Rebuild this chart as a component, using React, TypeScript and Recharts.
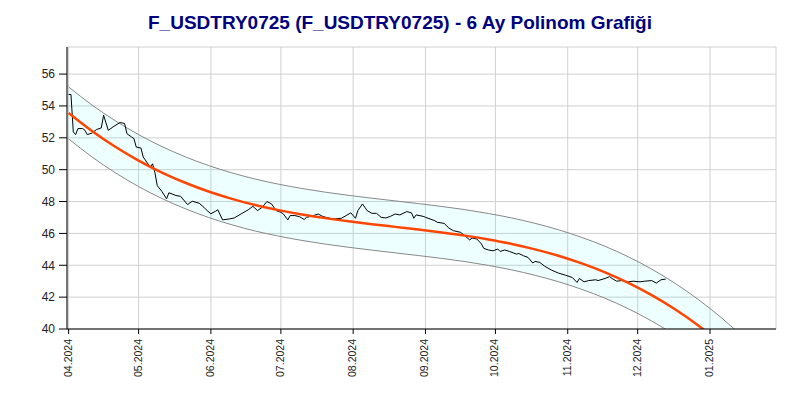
import React from 'react';
import { ComposedChart, Line, Area, XAxis, YAxis, CartesianGrid } from 'recharts';

// day index = days since 01.04.2024
const priceDays = [
  0, 1, 2, 3, 4, 6, 7, 8, 10, 12, 14, 15, 17, 19, 22, 24, 25, 27, 28, 29,
  31, 32, 34, 35, 36, 37, 38, 40, 42, 43, 46, 48, 51, 53, 56, 58, 59, 61, 63, 64,
  65, 66, 69, 71, 74, 77, 79, 81, 83, 85, 87, 89, 91, 92, 94, 95, 97, 99, 101, 102,
  104, 107, 109, 112, 114, 117, 119, 121, 123, 124, 126, 128, 130, 132, 134, 136, 138, 140, 142, 145,
  147, 148, 149, 152, 153, 157, 158, 161, 163, 165, 168, 169, 172, 173, 175, 177, 178, 180, 182, 184,
  185, 187, 189, 192, 193, 195, 197, 199, 200, 202, 204, 207, 210, 213, 216, 218, 219, 221, 223, 226,
  227, 230, 232, 233, 235, 237, 240, 242, 245, 247, 250, 252, 254, 256,
];
const prices = [
  54.72, 54.72, 52.37, 52.2, 52.58, 52.58, 52.47, 52.2, 52.3, 52.52, 52.62, 53.42, 52.47, 52.68, 52.96, 52.9, 52.26, 52.05, 51.95, 51.42,
  51.36, 50.79, 50.37, 50.16, 50.37, 49.81, 49.0, 48.63, 48.17, 48.55, 48.38, 48.33, 47.81, 48.02, 47.89, 47.64, 47.48, 47.23, 47.39, 47.48,
  47.16, 46.85, 46.91, 46.97, 47.23, 47.48, 47.7, 47.43, 47.64, 48.0, 47.85, 47.43, 47.33, 47.23, 46.85, 47.12, 47.12, 47.05, 46.87, 47.01,
  47.07, 47.22, 47.06, 46.95, 46.91, 46.95, 47.12, 47.29, 46.95, 47.43, 47.85, 47.43, 47.26, 47.26, 47.01, 46.97, 47.07, 47.22, 47.16, 47.37,
  47.29, 46.95, 47.16, 47.07, 47.01, 46.8, 46.7, 46.63, 46.34, 46.17, 46.07, 45.96, 45.59, 45.71, 45.65, 45.34, 45.06, 44.96, 44.91, 45.02,
  44.87, 44.96, 44.87, 44.7, 44.74, 44.6, 44.49, 44.14, 44.24, 44.18, 43.95, 43.7, 43.51, 43.38, 43.23, 42.92, 43.17, 42.96, 43.04, 43.09,
  43.04, 43.17, 43.29, 43.17, 43.0, 43.04, 42.96, 43.0, 42.96, 43.0, 43.04, 42.88, 43.09, 43.13,
];

const fitDays = [0, 10, 20, 30, 40, 50, 60, 70, 80, 90, 100, 110, 120, 130, 140, 150, 160, 170, 180, 190, 200, 210, 220, 230, 240, 250, 260, 270, 280, 290, 300];
const fitValues = [53.56, 52.43, 51.44, 50.57, 49.82, 49.18, 48.63, 48.17, 47.78, 47.46, 47.19, 46.96, 46.76, 46.58, 46.41, 46.24, 46.06, 45.86, 45.62, 45.34, 45.0, 44.6, 44.12, 43.56, 42.9, 42.13, 41.24, 40.22, 39.06, 37.75, 36.28];
const upperValues = [55.19, 54.06, 53.07, 52.2, 51.45, 50.81, 50.26, 49.8, 49.41, 49.09, 48.82, 48.59, 48.39, 48.21, 48.04, 47.87, 47.69, 47.49, 47.25, 46.97, 46.63, 46.23, 45.75, 45.19, 44.53, 43.76, 42.87, 41.85, 40.69, 39.38, 37.91];
const lowerValues = [51.93, 50.8, 49.81, 48.94, 48.19, 47.55, 47.0, 46.54, 46.15, 45.83, 45.56, 45.33, 45.13, 44.95, 44.78, 44.61, 44.43, 44.23, 43.99, 43.71, 43.37, 42.97, 42.49, 41.93, 41.27, 40.5, 39.61, 38.59, 37.43, 36.12, 34.65];

const monthLabels = ['04.2024', '05.2024', '06.2024', '07.2024', '08.2024', '09.2024', '10.2024', '11.2024', '12.2024', '01.2025'];
const yTicks = [40, 42, 44, 46, 48, 50, 52, 54, 56];

const startUTC = Date.UTC(2024, 3, 1);
const dayOf = (label: string) => {
  const [m, y] = label.split('.').map(Number);
  return (Date.UTC(y, m - 1, 1) - startUTC) / 86400000;
};
const monthTicks = monthLabels.map(dayOf);
const labelByDay: Record<number, string> = {};
monthLabels.forEach((l, i) => { labelByDay[monthTicks[i]] = l; });

const priceData = priceDays.map((d, i) => ({ day: d, price: prices[i] }));
const fitData = fitDays.map((d, i) => ({
  day: d,
  fit: fitValues[i],
  upper: upperValues[i],
  lower: lowerValues[i],
  band: [lowerValues[i], upperValues[i]],
}));

const FONT = "'Liberation Sans', Arial, sans-serif";

const MonthTick = (props: any) => {
  const { x, y, payload } = props;
  return (
    <g transform={`translate(${x},${y})`}>
      <text x={-3} y={0} dy={3} transform="rotate(-90)" textAnchor="end" fontSize={10.5} fontFamily={FONT} fill="#222">
        {labelByDay[payload.value]}
      </text>
    </g>
  );
};

export default function App() {
  return (
    <div style={{ position: 'absolute', left: 0, top: 0, width: 800, height: 400, background: '#fff' }}>
      <div style={{
        position: 'absolute', left: 0, top: 12, width: 800, textAlign: 'center',
        fontFamily: FONT, fontWeight: 'bold', fontSize: 19, lineHeight: '21px', color: '#000080',
      }}>
        F_USDTRY0725 (F_USDTRY0725) - 6 Ay Polinom Grafiği
      </div>
      <ComposedChart width={800} height={400} margin={{ top: 47, right: 24, bottom: 0, left: 0 }}>
        <CartesianGrid stroke="#d0d0d0" horizontalPoints={undefined} />
        <XAxis
          type="number"
          dataKey="day"
          domain={[-0.7, 303.3]}
          ticks={monthTicks}
          allowDataOverflow
          height={71}
          tickSize={5}
          tickMargin={2}
          stroke="#000"
          tick={<MonthTick />}
          interval={0}
        />
        <YAxis
          type="number"
          domain={[40, 57.7]}
          ticks={yTicks}
          allowDataOverflow
          width={67}
          tickSize={8}
          tickMargin={4}
          stroke="#000"
          tick={{ fontSize: 12, fontFamily: FONT, fill: '#222' }}
          interval={0}
        />
        <Area
          data={fitData}
          dataKey="band"
          type="monotone"
          stroke="none"
          fill="#00ffff"
          fillOpacity={0.07}
          isAnimationActive={false}
        />
        <Line data={fitData} dataKey="upper" type="monotone" stroke="#888" strokeWidth={1} dot={false} isAnimationActive={false} />
        <Line data={fitData} dataKey="lower" type="monotone" stroke="#888" strokeWidth={1} dot={false} isAnimationActive={false} />
        <Line data={priceData} dataKey="price" type="linear" stroke="#000" strokeWidth={1} dot={false} isAnimationActive={false} />
        <Line data={fitData} dataKey="fit" type="monotone" stroke="#ff4500" strokeWidth={2.5} dot={false} isAnimationActive={false} />
      </ComposedChart>
    </div>
  );
}
